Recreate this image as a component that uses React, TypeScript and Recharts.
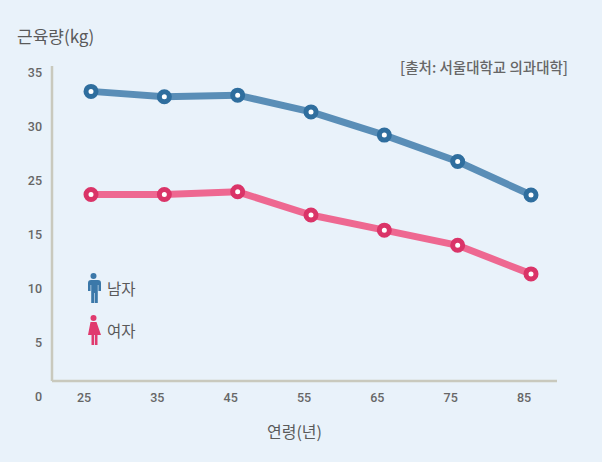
import { LineChart, Line, XAxis, YAxis } from 'recharts';

// age groups (x categories)
const ages = ['25', '35', '45', '55', '65', '75', '85'];
// values read in the chart's own y-axis units (the axis skips "20", see labels below)
const maleMass = [28.3, 27.8, 27.95, 26.4, 24.25, 21.8, 18.7];
const femaleMass = [18.75, 18.75, 19.0, 16.85, 15.45, 14.05, 11.4];
// tick positions and the text printed at each one
const yTicks = [0, 5, 10, 15, 20, 25, 30];
const yTickLabels = ['0', '5', '10', '15', '25', '30', '35'];

const data = ages.map((age, i) => ({ age, male: maleMass[i], female: femaleMass[i] }));

const BG = '#e9f2fa';
const AXIS = '#c9c9bd';
const TEXT = '#666666';
const NUM_FONT = 'Roboto, "Noto Sans", sans-serif';
const KR_FONT = '"Noto Sans CJK KR", "Noto Sans", sans-serif';

function AgeTick({ x, y, payload }: any) {
  return (
    <text x={x - 7} y={y} dy="0.71em" textAnchor="middle" fill={TEXT} fontSize={12.5} fontWeight={500} fontFamily={NUM_FONT}>
      {payload.value}
    </text>
  );
}

function MassTick({ x, y, payload }: any) {
  const idx = yTicks.indexOf(payload.value);
  return (
    <text x={x} y={y} dy="0.355em" textAnchor="end" fill={TEXT} fontSize={12.5} fontWeight={500} fontFamily={NUM_FONT}>
      {yTickLabels[idx]}
    </text>
  );
}

function ManIcon() {
  return (
    <svg width={15} height={30} viewBox="0 0 15 30" style={{ flexShrink: 0, display: 'block' }}>
      <circle cx={7.5} cy={3} r={3} fill="#3b78a9" />
      <path d="M3 7 h9 a3 3 0 0 1 3 3 v8 h-2.6 v-6 h-0.6 v18 h-3 v-10 h-0.6 v10 h-3 v-18 h-0.6 v6 h-2.6 v-8 a3 3 0 0 1 3 -3 z" fill="#3b78a9" />
    </svg>
  );
}

function WomanIcon() {
  return (
    <svg width={15} height={30} viewBox="0 0 15 30" style={{ flexShrink: 0, display: 'block' }}>
      <circle cx={7.5} cy={3} r={3} fill="#e03a6e" />
      <path d="M4.5 7 h6 l4.5 13 h-3.5 v10 h-2.6 v-10 h-0.8 v10 h-2.6 v-10 h-3.5 z" fill="#e03a6e" />
    </svg>
  );
}

export default function App() {
  return (
    <div style={{ position: 'absolute', left: 0, top: 0, width: 602, height: 462, background: BG, overflow: 'hidden' }}>
      <LineChart width={602} height={462} data={data} margin={{ top: 66, right: 45, bottom: 51, left: 0 }}>
        <XAxis
          dataKey="age"
          height={30}
          padding={{ left: 39, right: 26 }}
          axisLine={{ stroke: AXIS, strokeWidth: 2.5 }}
          tickLine={false}
          tickSize={6}
          tickMargin={6}
          tick={<AgeTick />}
        />
        <YAxis
          type="number"
          width={52}
          domain={[1.48, 30.65]}
          ticks={yTicks}
          interval={0}
          allowDataOverflow
          axisLine={{ stroke: AXIS, strokeWidth: 2.5 }}
          tickLine={false}
          tickSize={6}
          tickMargin={4}
          tick={<MassTick />}
        />
        <Line
          dataKey="male"
          stroke="#5a8eb7"
          strokeWidth={7}
          dot={{ r: 5, fill: '#ffffff', stroke: '#2f6e9e', strokeWidth: 5 }}
          activeDot={false}
          isAnimationActive={false}
        />
        <Line
          dataKey="female"
          stroke="#ee6891"
          strokeWidth={7}
          dot={{ r: 5, fill: '#ffffff', stroke: '#da3468', strokeWidth: 5 }}
          activeDot={false}
          isAnimationActive={false}
        />
      </LineChart>

      <div style={{ position: 'absolute', left: 17, top: 25, fontSize: 17, color: '#5a5a5a', fontFamily: KR_FONT, lineHeight: '22px' }}>
        근육량(kg)
      </div>
      <div style={{ position: 'absolute', right: 34, top: 57, fontSize: 14.5, fontWeight: 500, color: TEXT, fontFamily: KR_FONT, lineHeight: '20px' }}>
        [출처: 서울대학교 의과대학]
      </div>
      <div style={{ position: 'absolute', left: 267, top: 420, fontSize: 16, color: '#5a5a5a', fontFamily: KR_FONT, lineHeight: '22px' }}>
        연령(년)
      </div>

      <div style={{ position: 'absolute', left: 86, top: 273, display: 'flex', alignItems: 'center' }}>
        <ManIcon />
        <span style={{ marginLeft: 6, fontSize: 15.5, color: '#5a5a5a', fontFamily: KR_FONT }}>남자</span>
      </div>
      <div style={{ position: 'absolute', left: 86, top: 315, display: 'flex', alignItems: 'center' }}>
        <WomanIcon />
        <span style={{ marginLeft: 6, fontSize: 15.5, color: '#5a5a5a', fontFamily: KR_FONT }}>여자</span>
      </div>
    </div>
  );
}
